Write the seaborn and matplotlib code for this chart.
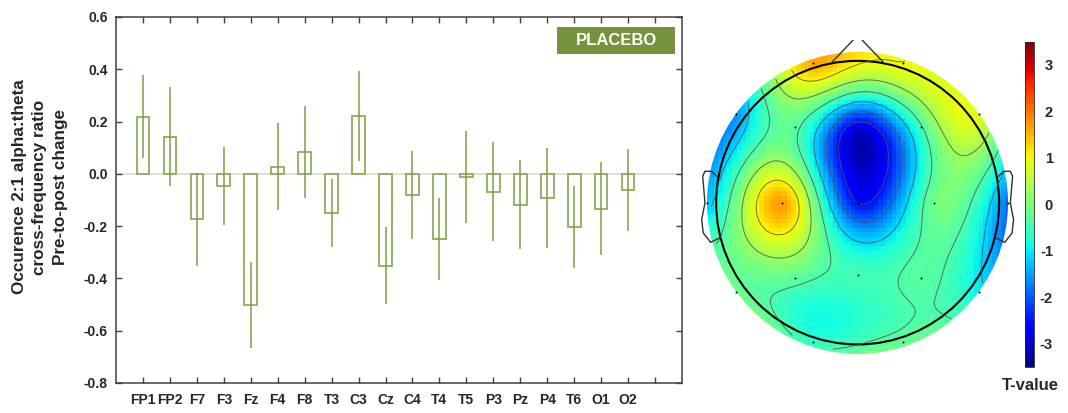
import numpy as np
import pandas as pd
import matplotlib
matplotlib.use('Agg')
import matplotlib.pyplot as plt
import seaborn as sns
from matplotlib.patches import Rectangle, Circle
from matplotlib.ticker import FormatStrFormatter

channels = ['FP1', 'FP2', 'F7', 'F3', 'Fz', 'F4', 'F8', 'T3', 'C3', 'Cz',
            'C4', 'T4', 'T5', 'P3', 'Pz', 'P4', 'T6', 'O1', 'O2']
change_mean = [0.219, 0.142, -0.174, -0.046, -0.502, 0.027, 0.084, -0.150, 0.222, -0.351,
               -0.081, -0.249, -0.012, -0.068, -0.118, -0.093, -0.203, -0.133, -0.063]
change_err = [0.160, 0.190, 0.177, 0.150, 0.165, 0.167, 0.177, 0.130, 0.172, 0.148,
              0.168, 0.157, 0.177, 0.190, 0.170, 0.190, 0.157, 0.179, 0.157]
y_ticks = [-0.8, -0.6, -0.4, -0.2, 0.0, 0.2, 0.4, 0.6]

# scalp map: electrode positions (head radius = 1, nose up) and T-values
elec_x = [-0.318, 0.322, -0.859, -0.442, 0.0, 0.445, 0.859, -1.065, -0.536, 0.0,
          0.539, 1.065, -0.859, -0.442, 0.0, 0.445, 0.859, -0.318, 0.322]
elec_y = [0.984, 0.984, 0.626, 0.532, 0.506, 0.532, 0.626, 0.0, 0.0, 0.0,
          0.0, 0.0, -0.628, -0.532, -0.511, -0.532, -0.628, -0.986, -0.986]
t_values = [1.6, 1.0, -1.6, -0.3, -3.0, -0.5, 0.8, -1.3, 1.7, -2.55,
            -0.1, -1.9, -0.1, -0.25, -0.5, -0.3, -1.0, -0.6, -0.2]
cbar_ticks = [-3, -2, -1, 0, 1, 2, 3]

bar_color = '#8cad5c'
err_color = '#7e9e45'
box_color = '#76923c'

sns.set_style('ticks')
plt.rcParams['font.family'] = ['Liberation Sans', 'DejaVu Sans']
plt.rcParams['font.weight'] = 'bold'

fig = plt.figure(figsize=(10.68, 4.13), dpi=100)

# ---- bar chart ----
ax = fig.add_axes([116 / 1068, 30 / 413, 566 / 1068, 366 / 413])
df = pd.DataFrame({'channel': channels, 'change': change_mean, 'err': change_err})
ax.axhline(0, color='#d9d9d9', lw=1.2, zorder=0)
sns.barplot(data=df, x='channel', y='change', fill=False, color=bar_color, saturation=1,
            width=0.47, linewidth=1.3, errorbar=None, ax=ax)
pos = np.arange(len(channels))
ax.vlines(pos, df['change'] - df['err'], df['change'] + df['err'], color=err_color, lw=1.1)

ax.set_xlim(-1, 20)
ax.set_ylim(-0.8, 0.6)
ax.set_xticks(np.arange(20))
ax.set_xticklabels(channels + [''])
ax.set_yticks(y_ticks)
ax.yaxis.set_major_formatter(FormatStrFormatter('%.1f'))
ax.set_xlabel('')
ax.set_ylabel('')
ax.tick_params(direction='in', top=True, right=True, length=4, width=1, color='#404040',
               labelsize=10)
ax.tick_params(axis='x', pad=7)
ax.tick_params(axis='y', pad=6)
for s in ax.spines.values():
    s.set_color('#404040')
    s.set_linewidth(1.1)

ax.add_patch(Rectangle((0.779, 0.899), 0.209, 0.074, transform=ax.transAxes,
                       facecolor=box_color, edgecolor='none'))
ax.text(0.8835, 0.936, 'PLACEBO', transform=ax.transAxes, ha='center', va='center',
        color='white', fontsize=12, fontweight='bold')

fig.text(40 / 1068, 1 - 187 / 413, 'Occurence 2:1 alpha:theta\ncross-frequency ratio\nPre-to-post change',
         rotation=90, ha='center', va='center', multialignment='center', fontsize=12.3,
         fontweight='bold', linespacing=1.45)

# ---- scalp map ----
tx = fig.add_axes([700 / 1068, 48 / 413, 315 / 1068, 325 / 413])
hx = np.array(elec_x)
hy = np.array(elec_y)
tv = np.array(t_values)


def green(d):
    with np.errstate(divide='ignore', invalid='ignore'):
        g = d ** 2 * (np.log(d) - 1)
    return np.where(d == 0, 0.0, g)


D = np.sqrt((hx[:, None] - hx[None, :]) ** 2 + (hy[:, None] - hy[None, :]) ** 2)
w = np.linalg.solve(green(D), tv)
rmax = 1.065
gx = np.linspace(-rmax, rmax, 67)
GX, GY = np.meshgrid(gx, gx)
dg = np.sqrt((GX[..., None] - hx) ** 2 + (GY[..., None] - hy) ** 2)
Z = green(dg) @ w
Zm = np.ma.masked_where(GX ** 2 + GY ** 2 > (rmax + 0.05) ** 2, Z)

mesh = tx.pcolormesh(GX, GY, Zm, shading='nearest', cmap='jet', vmin=-3.5, vmax=3.5)
mesh.set_clip_path(Circle((0, 0), rmax, transform=tx.transData))
inside = GX ** 2 + GY ** 2 <= rmax ** 2
zmin, zmax = Z[inside].min(), Z[inside].max()
levels = np.linspace(zmin, zmax, 8)[1:-1]
cs = tx.contour(GX, GY, np.ma.masked_where(~inside, Z), levels=levels,
                colors='#505050', linewidths=0.7, alpha=0.8, linestyles='solid')
cs.set_clip_path(Circle((0, 0), rmax, transform=tx.transData))

tx.add_patch(Circle((0, 0), 1.0, fill=False, edgecolor='black', lw=1.5))
tx.plot([-0.18, 0, 0.18], [0.992, 1.18, 0.992], color='#303030', lw=1)
ear_x = np.array([-0.996, -1.032, -1.079, -1.095, -1.079, -1.102, -1.091, -1.039, -0.978])
ear_y = np.array([0.186, 0.221, 0.221, 0.186, -0.002, -0.12, -0.214, -0.28, -0.25])
tx.plot(ear_x, ear_y, color='#303030', lw=1)
tx.plot(-ear_x, ear_y, color='#303030', lw=1)
tx.scatter(hx, hy, s=2, c='black', zorder=5, linewidths=0)
tx.set_xlim(-1.114, 1.112)
tx.set_ylim(-1.145, 1.147)
tx.axis('off')

cax = fig.add_axes([1025 / 1068, 46.3 / 413, 8.5 / 1068, 325 / 413])
cb = fig.colorbar(mesh, cax=cax, ticks=cbar_ticks)
cb.outline.set_linewidth(0.6)
cb.ax.yaxis.set_major_formatter(FormatStrFormatter('%d'))
cb.ax.tick_params(direction='in', length=2, width=0.6, labelsize=10.5, pad=14)
for t in cb.ax.get_yticklabels():
    t.set_horizontalalignment('right')
fig.text(1030 / 1068, 1 - 385 / 413, 'T-value', ha='center', va='center',
         fontsize=12, fontweight='bold')

fig.savefig('out.png', dpi=100)
